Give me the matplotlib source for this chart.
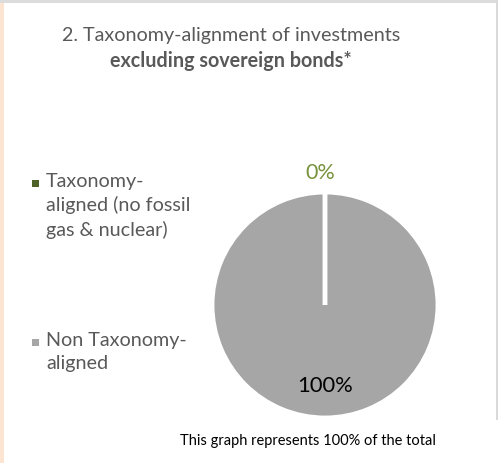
import matplotlib.pyplot as plt
from matplotlib.patches import Rectangle

labels = ["Taxonomy-\naligned (no fossil\ngas & nuclear)", "Non Taxonomy-\naligned"]
values = [0, 100]
colors = ["#4F6228", "#A6A6A6"]
pct_labels = ["0%", "100%"]
pct_colors = ["#77933C", "#000000"]

plt.rcParams['font.family'] = ['Lato', 'DejaVu Sans']

fig = plt.figure(figsize=(4.98, 4.63), dpi=100)
fig.patch.set_facecolor("white")

# frame bits of the screenshot
fig.add_artist(Rectangle((0, 0), 4 / 498, 1, transform=fig.transFigure, color="#FCE4D0", lw=0))
fig.add_artist(Rectangle((0, 1 - 3 / 463), 1, 3 / 463, transform=fig.transFigure, color="#DCDCDC", lw=0))
fig.add_artist(Rectangle((1 - 2 / 498, 43 / 463), 2 / 498, 1, transform=fig.transFigure, color="#D9D9D9", lw=0))

# pie
cx, cy, r = 325, 305, 113
ax = fig.add_axes([(cx - r) / 498, 1 - (cy + r) / 463, 2 * r / 498, 2 * r / 463])
wedges, _ = ax.pie(values, colors=colors, startangle=90, counterclock=False,
                   wedgeprops=dict(edgecolor="white", linewidth=3.5))
wedges[0].set_zorder(5)
ax.set_aspect("auto")
ax.set_xlim(-1.0, 1.0)
ax.set_ylim(-1.0, 1.0)

gray = "#595959"
fig.text(231 / 498, 1 - 35 / 463, "2. Taxonomy-alignment of investments",
         ha="center", va="center", fontsize=14.2, color=gray)
fig.text(231 / 498, 1 - 61 / 463, "excluding sovereign bonds*",
         ha="center", va="center", fontsize=14.2, color=gray, fontweight="bold")

# data labels
fig.text(320 / 498, 1 - 173 / 463, pct_labels[0], ha="center", va="center",
         fontsize=15.5, color=pct_colors[0])
fig.text(325 / 498, 1 - 386 / 463, pct_labels[1], ha="center", va="center",
         fontsize=15.8, color=pct_colors[1])

# legend
leg_y = [183, 342]
for lab, col, y in zip(labels, colors, leg_y):
    fig.add_artist(Rectangle((32 / 498, 1 - (y + 4) / 463), 7 / 498, 7 / 463,
                             transform=fig.transFigure, color=col, lw=0))
    fig.text(46 / 498, 1 - (y - 10) / 463, lab, ha="left", va="top",
             fontsize=14.2, color=gray, linespacing=1.42)

fig.text(308 / 498, 1 - 441 / 463, "This graph represents 100% of the total",
         ha="center", va="center", fontsize=10.5, color="#000000")

fig.savefig("out.png", dpi=100)
